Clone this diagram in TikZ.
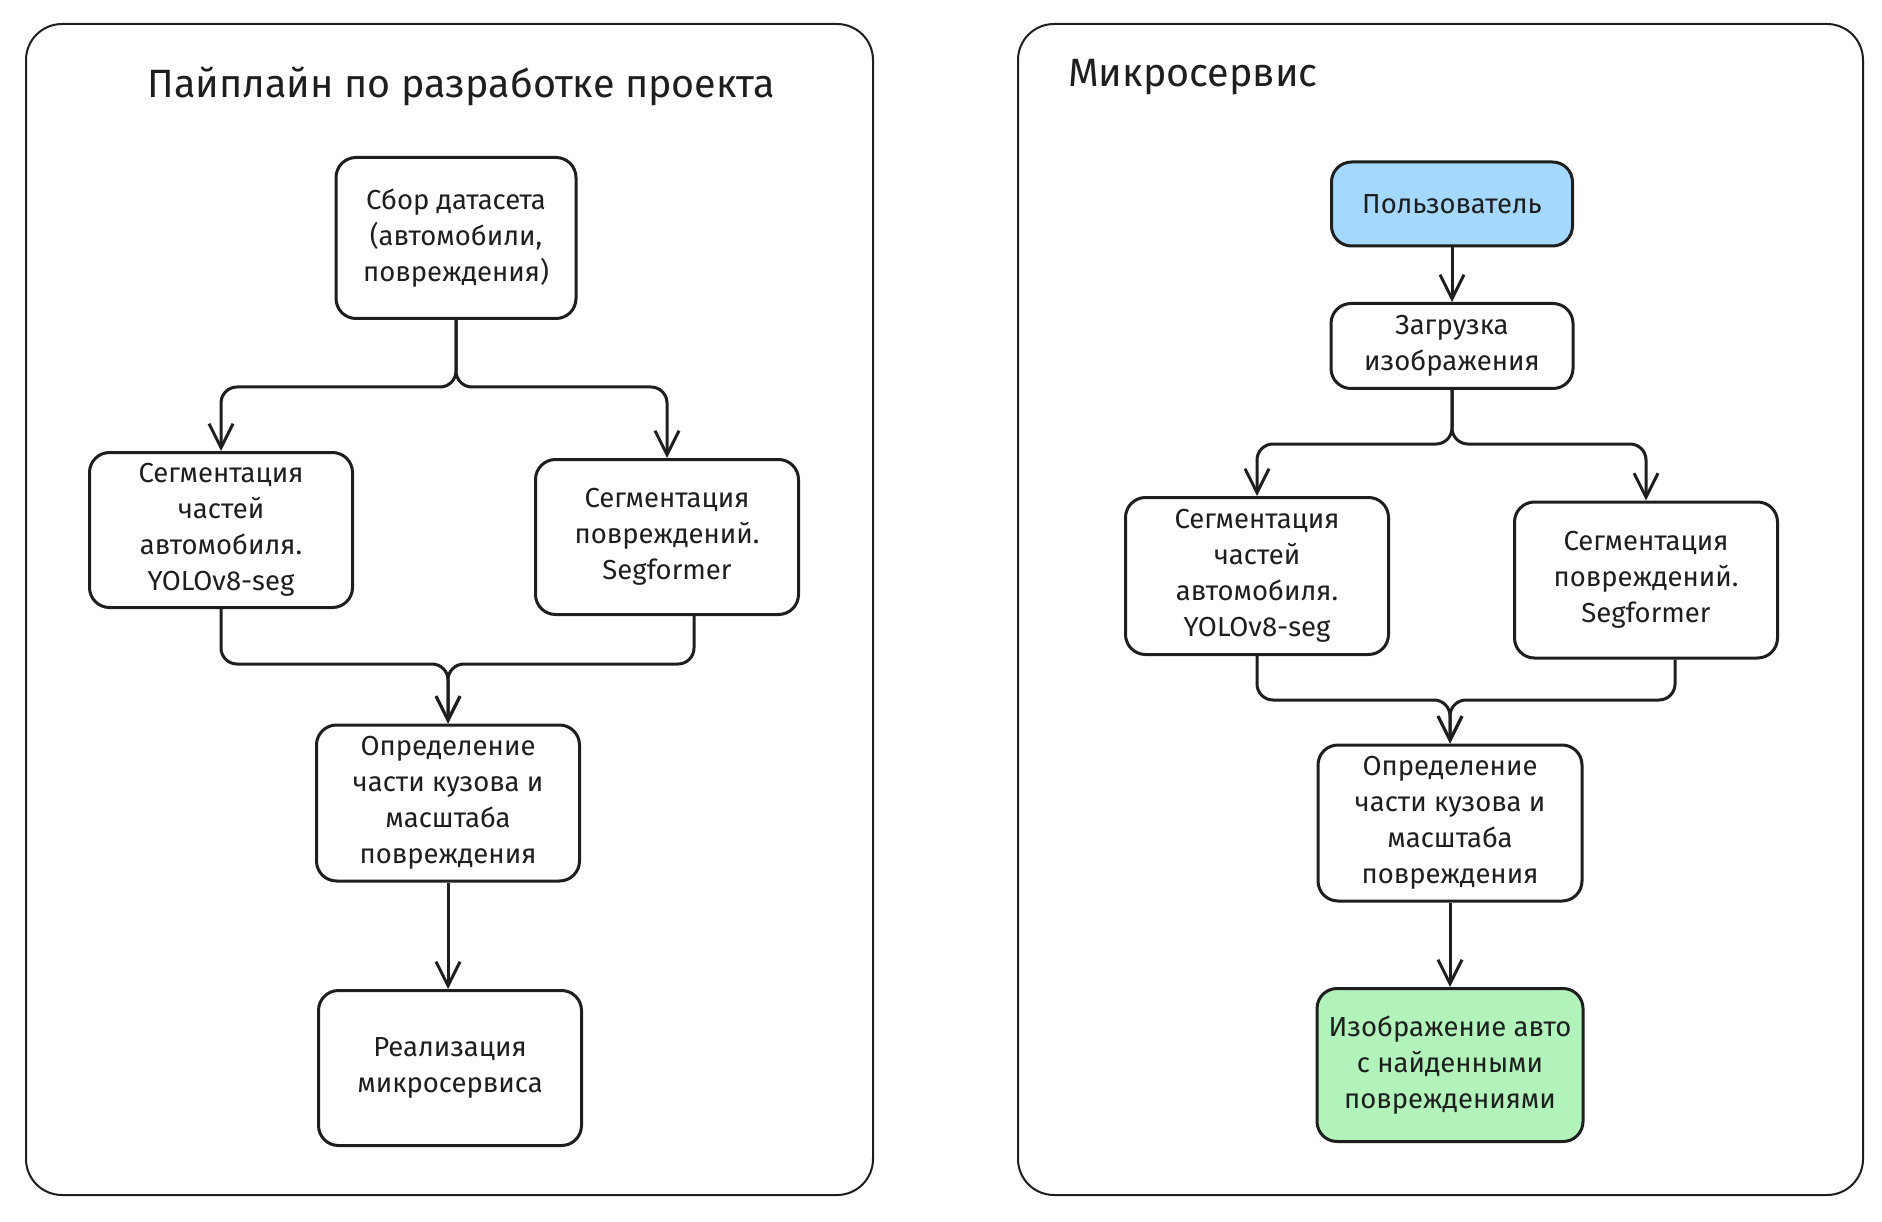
\documentclass[tikz,border=0pt]{standalone}
\usepackage{fontspec}
\setmainfont{Fira Sans}
\usetikzlibrary{arrows.meta,positioning}
\tikzset{>={Straight Barb[length=24pt,width=24pt,line width=3pt]}}
\definecolor{ink}{HTML}{1E1E1E}
\definecolor{userblue}{HTML}{A5D8FF}
\definecolor{resgreen}{HTML}{B2F2BB}
\tikzset{
  block/.style={draw=ink, line width=3pt, rounded corners=20pt, fill=white,
    align=center, inner sep=0pt, text=ink,
    minimum width=263pt, minimum height=155pt,
    font=\fontsize{27.5}{36}\selectfont},
  panel/.style={draw=ink, line width=2pt, rounded corners=36pt},
  heading/.style={text=ink, inner sep=0pt, font=\fontsize{39.5}{44}\selectfont},
  flow/.style={->, draw=ink, line width=3pt, rounded corners=16pt},
}

\begin{document}
\begin{tikzpicture}[x=1pt,y=-1pt]

  \useasboundingbox (0,0) rectangle (1882,1222);

  % two frames
  \draw[panel] (26,24) rectangle (873,1195);
  \draw[panel] (1018,24) rectangle (1863,1195);

  \node[heading] (titleL) at (461,86) {Пайплайн по разработке проекта};
  \node[heading, anchor=west] (titleR) at (1068,77) {Микросервис};

  % left: pipeline
  \node[block, minimum width=240pt, minimum height=161pt] (sbor) at (456,238)
    {Сбор датасета\\(автомобили,\\повреждения)};
  \node[block] (segA) at (221,530)
    {Сегментация\\частей\\автомобиля.\\YOLOv8-seg};
  \node[block] (segB) at (667,537)
    {Сегментация\\повреждений.\\Segformer};
  \node[block, minimum height=156pt] (opred) at (448,803)
    {Определение\\части кузова и\\масштаба\\повреждения};
  \node[block] (real) at (450,1068)
    {Реализация\\микросервиса};

  \coordinate (forkL) at (456,387);
  \coordinate (joinL) at (448,664);

  \draw[flow] (sbor.south) -- (forkL) -| (segA.north);
  \draw[flow] (sbor.south) -- (forkL) -| (segB.north);
  \draw[flow] (segA.south) |- (joinL) -- (opred.north);
  \draw[flow] ([xshift=27pt]segB.south) |- (joinL) -- (opred.north);
  \draw[flow] (opred.south) -- (opred.south |- real.north);

  % right: service
  \node[block, fill=userblue, minimum width=241pt, minimum height=84pt] (polz) at (1452,204)
    {Пользователь};
  \node[block, minimum width=242pt, minimum height=85pt] (zagr) at (1452,346)
    {Загрузка\\изображения};
  \node[block, minimum height=157pt] (segC) at (1257,576)
    {Сегментация\\частей\\автомобиля.\\YOLOv8-seg};
  \node[block, minimum height=156pt] (segD) at (1646,580)
    {Сегментация\\повреждений.\\Segformer};
  \node[block, minimum width=264pt, minimum height=156pt] (opredR) at (1450,823)
    {Определение\\части кузова и\\масштаба\\повреждения};
  \node[block, fill=resgreen, minimum width=266pt, minimum height=153pt] (izobr) at (1450,1065)
    {Изображение авто\\с найденными\\повреждениями};

  \coordinate (forkR) at (1452,444);
  \coordinate (joinR) at (1450,700);

  \draw[flow] (polz.south) -- (zagr.north);
  \draw[flow] (zagr.south) -- (forkR) -| (segC.north);
  \draw[flow] (zagr.south) -- (forkR) -| (segD.north);
  \draw[flow] (segC.south) |- (joinR) -- (opredR.north);
  \draw[flow] ([xshift=29pt]segD.south) |- (joinR) -- (opredR.north);
  \draw[flow] (opredR.south) -- (izobr.north);

\end{tikzpicture}
\end{document}
